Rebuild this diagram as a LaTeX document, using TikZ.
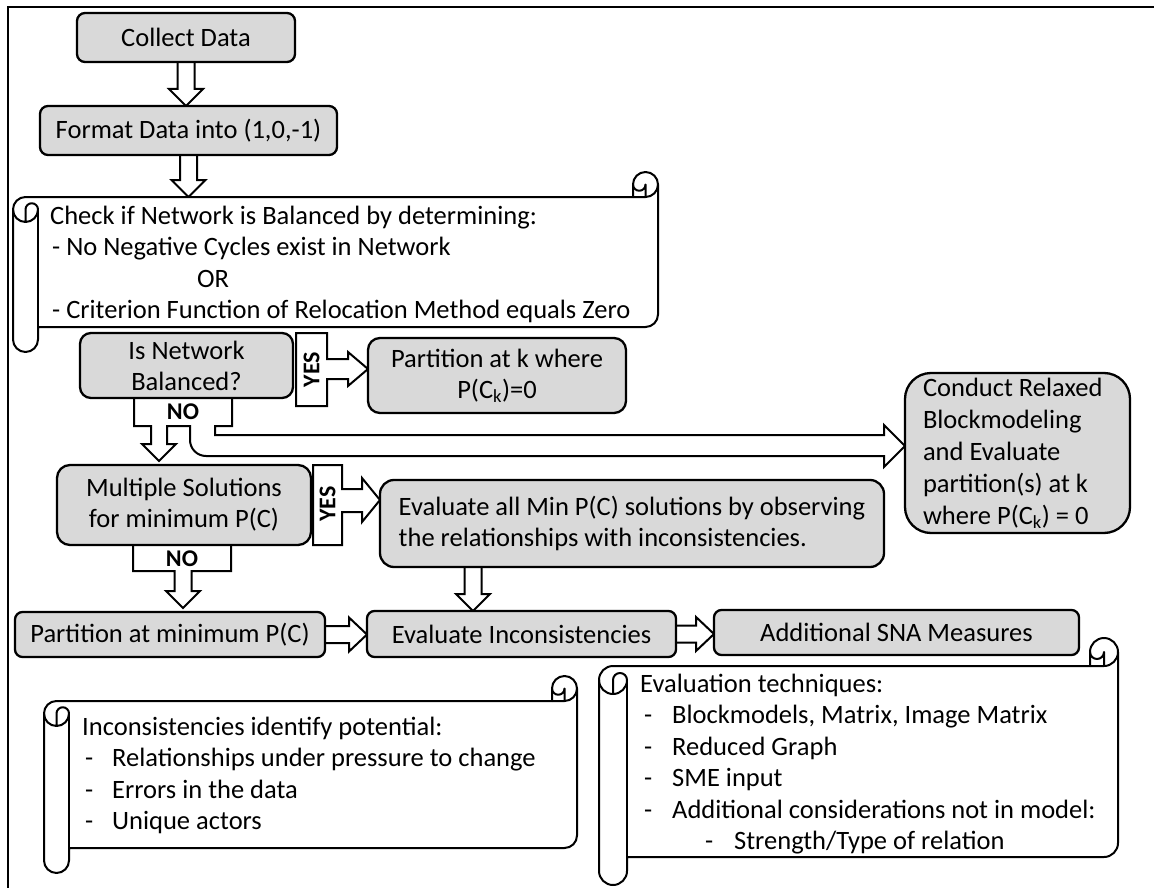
\documentclass[tikz,border=0pt]{standalone}
\usepackage{fontspec}
\setmainfont{Carlito}
\usetikzlibrary{calc}
\pgfdeclarelayer{bg}
\pgfsetlayers{bg,main}
\definecolor{boxgray}{HTML}{D9D9D9}
\tikzset{
  box/.style={draw=black, line width=2.3pt, fill=boxgray, text=black, outer sep=0pt,
    font=\fontsize{26.5}{31}\selectfont, align=center, inner sep=0pt},
  barrow/.style={draw=black, line width=2pt, fill=white, line join=miter},
  scrollline/.style={draw=black, line width=2pt, line join=round},
  txt/.style={inner sep=0pt, anchor=base west, font=\fontsize{26.5}{31}\selectfont, text=black},
  yesno/.style={inner sep=0pt, font=\fontsize{24}{28}\selectfont\bfseries, text=black},
}
% vertical block arrow (down) from #2 to #3, at the x of #2
\newcommand{\vdarrow}[3][]{\draw[barrow,#1] let \p1=(#2), \p2=(#3) in
  (\x1-8.5pt,\y1) -- (\x1-8.5pt,\y2+17pt) -- (\x1-17pt,\y2+17pt) -- (\x1,\y2)
  -- (\x1+17pt,\y2+17pt) -- (\x1+8.5pt,\y2+17pt) -- (\x1+8.5pt,\y1);}
% horizontal block arrow (right) from #2 to #3, at the y of #2
\newcommand{\hrarrow}[3][]{\draw[barrow,#1] let \p1=(#2), \p2=(#3) in
  (\x1,\y1+8.5pt) -- (\x2-18pt,\y1+8.5pt) -- (\x2-18pt,\y1+17pt) -- (\x2,\y1)
  -- (\x2-18pt,\y1-17pt) -- (\x2-18pt,\y1-8.5pt) -- (\x1,\y1-8.5pt);}
% horizontal scroll: name, x0, y0, x1, y1, r (= half roll size)
\newcommand{\hscroll}[6]{%
  \coordinate (#1) at ({(#2+#4)/2},{(#3+#5)/2});
  \draw[scrollline, fill=white] ({#2},{#3+3*#6}) arc[start angle=180,end angle=270,radius=#6]
    -- ({#4-2*#6},{#3+2*#6}) -- ({#4-2*#6},{#3+#6}) arc[start angle=180,end angle=360,radius=#6]
    -- ({#4},{#5-3*#6}) arc[start angle=0,end angle=90,radius=#6]
    -- ({#2+2*#6},{#5-2*#6}) -- ({#2+2*#6},{#5-#6}) arc[start angle=0,end angle=180,radius=#6]
    -- cycle;
  \draw[scrollline] ({#4-2*#6},{#3+2*#6}) -- ({#4-#6},{#3+2*#6}) arc[start angle=90,end angle=0,radius=#6];
  \draw[scrollline] ({#4-#6},{#3+2*#6}) -- ({#4-#6},{#3+#6}) arc[start angle=0,end angle=180,radius=#6/2];
  \draw[scrollline] ({#2+#6},{#3+4*#6}) -- ({#2+#6},{#3+3*#6}) arc[start angle=180,end angle=360,radius=#6/2]
    arc[start angle=0,end angle=180,radius=#6];
  \draw[scrollline] ({#2+2*#6},{#3+3*#6}) -- ({#2+2*#6},{#5-2*#6});
}
\begin{document}
\begin{tikzpicture}[x=1pt,y=-1pt]
\useasboundingbox (0,0) rectangle (1154,888);
\draw[line width=1.2pt] (8,888) -- (8,7) -- (1154,7);

% scrolls
\hscroll{sc1}{13}{172}{658}{352}{12.5}
\hscroll{sc2}{599}{638}{1118}{885}{14}
\hscroll{sc3}{44}{676}{577}{873}{12.5}
\coordinate (s1top) at (188.5,197);

% scroll texts
\node[txt] (s1a) at (50,224) {Check if Network is Balanced by determining:};
\node[txt] (s1b) at (52,255.5) {- No Negative Cycles exist in Network};
\node[txt] (s1c) at (197,287) {OR};
\node[txt] (s1d) at (52,318) {- Criterion Function of Relocation Method equals Zero};

\node[txt] (s2a) at (640,692) {Evaluation techniques:};
\node[txt] (s2b) at (644,723.5) {\makebox[28pt][l]{-}Blockmodels, Matrix, Image Matrix};
\node[txt] (s2c) at (644,755) {\makebox[28pt][l]{-}Reduced Graph};
\node[txt] (s2d) at (644,786.5) {\makebox[28pt][l]{-}SME input};
\node[txt] (s2e) at (644,818) {\makebox[28pt][l]{-}Additional considerations not in model:};
\node[txt] (s2f) at (705,849.5) {\makebox[29pt][l]{-}Strength/Type of relation};

\node[txt] (s3a) at (82,735) {Inconsistencies identify potential:};
\node[txt] (s3b) at (85,766.5) {\makebox[27pt][l]{-}Relationships under pressure to change};
\node[txt] (s3c) at (85,798) {\makebox[27pt][l]{-}Errors in the data};
\node[txt] (s3d) at (85,829.5) {\makebox[27pt][l]{-}Unique actors};

% process boxes
\node[box, minimum width=218pt, minimum height=49pt, rounded corners=8pt] (collect) at (186,37.5) {Collect Data};
\node[box, minimum width=297pt, minimum height=49pt, rounded corners=8pt] (format) at (188.5,130.5) {Format Data into (1,0,-1)};
\node[box, minimum width=213pt, minimum height=65pt, rounded corners=11pt] (isbal) at (186.5,365.5) {Is Network\\Balanced?};
\node[box, minimum width=258pt, minimum height=75pt, rounded corners=12pt] (partk) at (497,375.5) {Partition at k where\\P(C\textsubscript{k})=0};
\node[box, minimum width=225pt, minimum height=160pt, rounded corners=26pt, text width=189pt, align=flush left,
  font=\fontsize{26.5}{32}\selectfont] (conduct) at (1017.5,453)
  {Conduct Relaxed\\Blockmodeling\\and Evaluate\\partition(s) at k\\where P(C\textsubscript{k}) = 0};
\node[box, minimum width=254pt, minimum height=80pt, rounded corners=13pt] (multi) at (184,505) {Multiple Solutions\\for minimum P(C)};
\node[box, minimum width=504pt, minimum height=87pt, rounded corners=14pt, align=left] (evalall) at (632,523.5)
  {Evaluate all Min P(C) solutions by observing\\the relationships with inconsistencies.};
\node[box, minimum width=310pt, minimum height=45pt, rounded corners=7.5pt] (partmin) at (170,634.5) {Partition at minimum P(C)};
\node[box, minimum width=309pt, minimum height=46pt, rounded corners=7.5pt] (evalinc) at (521.5,634) {Evaluate Inconsistencies};
\node[box, minimum width=365pt, minimum height=45pt, rounded corners=7.5pt] (addsna) at (896.5,632.5) {Additional SNA Measures};

% YES / NO labels
\node[yesno, rotate=90] (yes1) at (311.5,369.5) {YES};
\node[yesno, rotate=90] (yes2) at (327.5,504) {YES};
\node[yesno] (no1) at (183,412) {NO};
\node[yesno] (no2) at (182,558.5) {NO};

% connectors
\begin{pgfonlayer}{bg}
\vdarrow{collect.south}{format.north}
\vdarrow{format.south}{s1top}
\vdarrow{[xshift=-159pt]evalall.south}{evalinc.north}
\hrarrow{partmin.east}{evalinc.west}
\hrarrow{evalinc.east}{addsna.west}
% YES 1
\draw[barrow] let \p1=(partk.west) in
  (296,333) -- (327,333) -- (327,359) -- (\x1-20pt,-359pt) -- (\x1-20pt,-352pt) -- (\x1,-369pt)
  -- (\x1-20pt,-386pt) -- (\x1-20pt,-379pt) -- (327,379) -- (327,406) -- (296,406) -- cycle;
% YES 2
\draw[barrow] let \p1=(evalall.west) in
  (313,465) -- (342,465) -- (342,489) -- (\x1-18pt,-489pt) -- (\x1-18pt,-478pt) -- (\x1,-500pt)
  -- (\x1-18pt,-522pt) -- (\x1-18pt,-512pt) -- (342,512) -- (342,545) -- (313,545) -- cycle;
% NO 1
\draw[barrow] let \p1=(isbal.south), \p2=(conduct.west), \p3=(multi.north) in
  (134pt,\y1) -- (134,426) -- (151,426) -- (151,444) -- (142,444) -- (159pt,\y3+4pt) -- (176,444)
  -- (167,444) -- (167,426) -- (190,426) -- (190,440) arc[start angle=180,end angle=90,radius=16]
  -- (\x2-21pt,-456pt) -- (\x2-21pt,-467pt) -- (\x2,-446pt) -- (\x2-21pt,-425pt) -- (\x2-21pt,-435pt)
  -- (215,435) -- (215,426) -- (232,426) -- (232pt,\y1);
% NO 2
\draw[barrow] let \p1=(multi.south), \p2=(partmin.north) in
  (133pt,\y1) -- (133,571) -- (174.5,571) -- (174.5,591) -- (166,591) -- (183pt,\y2+4pt)
  -- (200,591) -- (191.5,591) -- (191.5,571) -- (231,571) -- (231pt,\y1);
\end{pgfonlayer}
\end{tikzpicture}
\end{document}
